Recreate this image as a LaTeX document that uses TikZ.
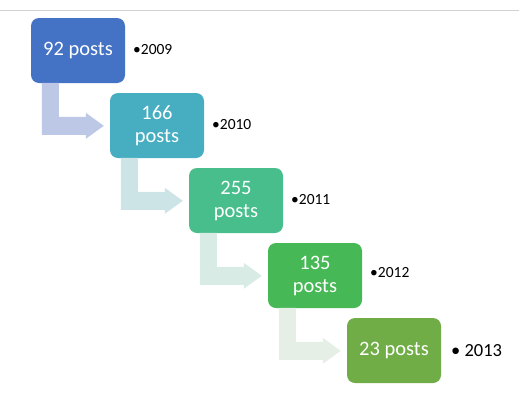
\documentclass[tikz,border=0pt]{standalone}
\usepackage{fontspec}
\setmainfont{Carlito}
\definecolor{c1}{HTML}{4472C4}
\definecolor{c2}{HTML}{47AEC1}
\definecolor{c3}{HTML}{47BE8C}
\definecolor{c4}{HTML}{47B856}
\definecolor{c5}{HTML}{70AD47}
\definecolor{a1}{HTML}{BCC8E5}
\definecolor{a2}{HTML}{CDE4E7}
\definecolor{a3}{HTML}{D8ECE5}
\definecolor{a4}{HTML}{E6EFE6}
\tikzset{
  postbox/.style={rounded corners=8pt, minimum width=94pt, minimum height=65pt, inner sep=0pt,
    text=white, font=\fontsize{20.5}{23}\selectfont, align=center},
  yearlbl/.style={anchor=west, inner sep=0pt, font=\fontsize{15.5}{17}\selectfont},
}
\newcommand{\bentarrow}[2]{%
  \begin{scope}[shift={(#1.north west)}]
    \fill[#2] (11,65) -- (28,65) -- (28,99) -- (55,99) -- (55,95) -- (73,108) -- (55,121) -- (55,117) -- (11,117) -- cycle;
  \end{scope}}
\begin{document}
\begin{tikzpicture}[x=1pt,y=-1pt]
\useasboundingbox (0,0) rectangle (519,418);
\draw[color=black!18, line width=1pt] (0,10) -- (519,10);
\node[postbox, fill=c1] (b1) at (78,50.5) {92 posts};
\node[postbox, fill=c2] (b2) at (157,125.5) {166\\posts};
\node[postbox, fill=c3] (b3) at (236,200.5) {255\\posts};
\node[postbox, fill=c4] (b4) at (315,275.5) {135\\posts};
\node[postbox, fill=c5] (b5) at (394,350.5) {23 posts};
\bentarrow{b1}{a1}
\bentarrow{b2}{a2}
\bentarrow{b3}{a3}
\bentarrow{b4}{a4}
\node[yearlbl] (y1) at (133,50) {•2009};
\node[yearlbl] (y2) at (212,125) {•2010};
\node[yearlbl] (y3) at (291,200) {•2011};
\node[yearlbl] (y4) at (370,273) {•2012};
\node[yearlbl, font=\fontsize{18.5}{20}\selectfont] (y5) at (451,351) {•\ 2013};
\end{tikzpicture}
\end{document}
